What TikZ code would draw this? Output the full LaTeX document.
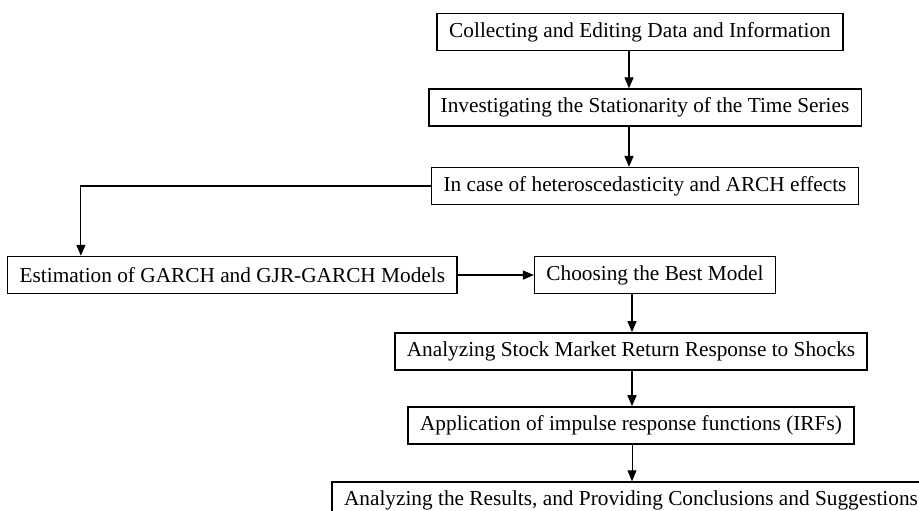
\documentclass[tikz,border=0pt]{standalone}
\usepackage{fontspec}
\setmainfont{Liberation Serif}
\usetikzlibrary{arrows.meta,positioning,calc}

\begin{document}
\begin{tikzpicture}[x=1pt, y=1pt, node distance=38pt, >={Triangle[length=11pt,width=9pt]},
  block/.style={draw=black, fill=white, rectangle, line width=1.6pt, minimum height=37pt, inner xsep=12pt, font=\fontsize{21.3}{25}\selectfont},
  thinblock/.style={block, line width=1.1pt},
  line/.style={draw=black, ->, line width=1.4pt}
]
  \useasboundingbox (0,0) rectangle (919,-511);

  % Data preparation
  \node [block] (collect) at (640,-32) {Collecting and Editing Data and Information};
  \node [block, below=37pt of collect, xshift=5pt] (station) {Investigating the Stationarity of the Time Series};
  \node [thinblock, below=40pt of station] (hetero) {In case of heteroscedasticity and ARCH effects};

  % Modelling
  \node [thinblock, below=51pt of hetero, xshift=10pt] (best) {Choosing the Best Model};
  \node [block, left=76pt of best] (garch) {Estimation of GARCH and GJR-GARCH Models};

  % Shock analysis
  \node [block, below=38pt of best, xshift=-24pt] (shocks) {Analyzing Stock Market Return Response to Shocks};
  \node [block, below=35.5pt of shocks] (irf) {Application of impulse response functions (IRFs)};
  \node [block, below=36.5pt of irf] (results) {Analyzing the Results, and Providing Conclusions and Suggestions};

  \coordinate (spine) at (629,0);
  \coordinate (spine2) at (632,0);

  % Flow Connections
  \draw [line] (collect.south -| spine) -- (station.north -| spine);
  \draw [line] (station.south -| spine) -- (hetero.north -| spine);
  \draw [line, line width=1.1pt] (hetero.west) -| ([xshift=74pt]garch.north west);
  \draw [line] (garch) -- (best);
  \draw [line] (best.south -| spine2) -- (shocks.north -| spine2);
  \draw [line] (shocks.south -| spine2) -- (irf.north -| spine2);
  \draw [line, line width=0.9pt] (irf.south -| spine2) -- (results.north -| spine2);

\end{tikzpicture}
\end{document}
